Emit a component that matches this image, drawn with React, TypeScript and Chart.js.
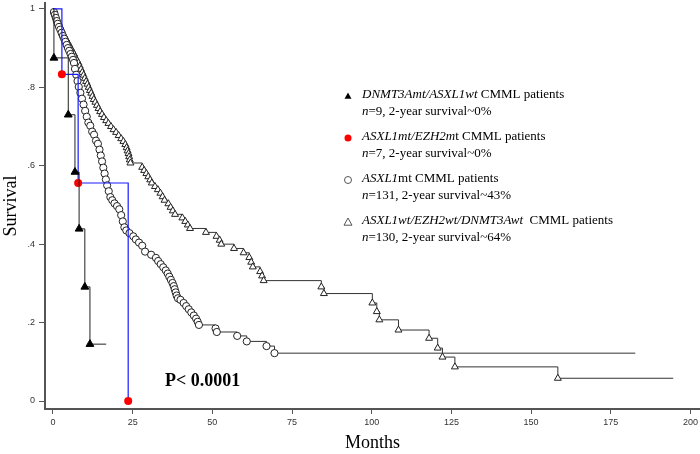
import React, { useEffect, useRef } from 'react';
import { Chart, registerables } from 'chart.js';

Chart.register(...registerables);

// ---------- axis ticks ----------
const xTickValues = [0, 25, 50, 75, 100, 125, 150, 175, 200];
const yTickValues = [0, 0.2, 0.4, 0.6, 0.8, 1];
const yTickLabels = ['0', '.2', '.4', '.6', '.8', '1'];

// ---------- DNMT3Amt/ASXL1wt (n=9) ----------
const dnmtTimes = [0.3, 4.8, 6.9, 8.2, 10.0, 11.6];
const dnmtSurv = [0.875, 0.73, 0.584, 0.439, 0.291, 0.145];
const dnmtEnd = 16.7;

// ---------- ASXL1mt/EZH2mt (n=7) ----------
const ezhTimes = [2.8, 7.9, 23.6];
const ezhSurv = [0.833, 0.556, 0.0];

// ---------- ASXL1mt (n=131) ----------
const asxlTimes = [
  0.3, 0.6, 0.9, 1.2, 1.5, 1.9, 2.3, 2.7, 3.1, 3.5, 3.9, 4.3, 4.7, 5.1, 5.5, 5.9, 6.3, 6.6, 6.9, 7.3,
  7.7, 8.1, 8.6, 9.1, 9.6, 10.1, 10.6, 11.1, 11.7, 12.3, 12.9, 13.5, 14.1, 14.6, 15.0, 15.4, 15.8, 16.2, 16.6, 17.0,
  17.5, 18.0, 18.6, 19.3, 20.1, 20.8, 21.4, 21.9, 22.4, 23.0, 24.0, 25.2, 26.0, 27.0, 28.0, 28.9, 30.8, 32.3, 33.0, 33.8,
  34.6, 35.4, 36.0, 36.5, 37.0, 37.5, 37.9, 38.2, 38.5, 38.8, 39.2, 40.0, 41.0, 41.8, 42.6, 43.4, 44.2, 44.9, 45.4, 45.8,
  51.0, 51.4, 57.8, 60.8, 67.0, 69.5,
];
const asxlSurv = [
  0.992, 0.985, 0.977, 0.969, 0.962, 0.954, 0.947, 0.939, 0.931, 0.924, 0.916, 0.908, 0.9, 0.893, 0.885, 0.878, 0.87, 0.862, 0.847, 0.832,
  0.816, 0.801, 0.786, 0.771, 0.756, 0.74, 0.725, 0.71, 0.702, 0.687, 0.679, 0.664, 0.656, 0.641, 0.626, 0.611, 0.595, 0.58, 0.565, 0.55,
  0.535, 0.52, 0.512, 0.504, 0.497, 0.489, 0.474, 0.458, 0.443, 0.435, 0.428, 0.42, 0.412, 0.404, 0.396, 0.381, 0.373, 0.365, 0.357, 0.349,
  0.341, 0.333, 0.325, 0.317, 0.309, 0.301, 0.293, 0.285, 0.277, 0.269, 0.262, 0.258, 0.25, 0.242, 0.234, 0.226, 0.218, 0.21, 0.202, 0.194,
  0.185, 0.176, 0.166, 0.152, 0.14, 0.122,
];
const asxlEnd = 182.7;

// ---------- ASXL1wt/EZH2wt/DNMT3Awt (n=130) ----------
const wtTimes = [
  0.3, 0.7, 1.1, 1.5, 1.9, 2.3, 2.7, 3.1, 3.6, 4.1, 4.6, 5.1, 5.6, 6.1, 6.6, 7.0, 7.5, 8.0, 8.4, 8.8,
  9.2, 9.6, 10.0, 10.4, 10.8, 11.2, 11.6, 12.0, 12.4, 12.8, 13.3, 13.8, 14.3, 14.8, 15.4, 16.0, 16.7, 17.4, 18.2, 19.0,
  19.8, 20.6, 21.4, 22.1, 22.7, 23.1, 23.4, 23.7, 23.9, 24.1, 24.3, 28.0, 28.6, 29.3, 29.9, 30.5, 31.0, 32.0, 32.9, 33.7,
  34.4, 35.0, 36.2, 36.9, 37.6, 38.3, 40.6, 41.5, 42.3, 43.0, 48.0, 51.3, 52.3, 52.8, 56.8, 59.8, 61.6, 62.2, 62.7, 65.0,
  65.6, 66.1, 84.2, 85.0, 100.2, 101.6, 102.4, 108.4, 118.0, 120.7, 122.2, 126.1, 158.4,
];
const wtSurv = [
  0.992, 0.985, 0.977, 0.969, 0.962, 0.954, 0.946, 0.938, 0.931, 0.923, 0.915, 0.908, 0.9, 0.892, 0.885, 0.877, 0.869, 0.862, 0.854, 0.846,
  0.838, 0.831, 0.823, 0.815, 0.808, 0.8, 0.792, 0.785, 0.777, 0.769, 0.762, 0.754, 0.746, 0.738, 0.731, 0.723, 0.715, 0.708, 0.7, 0.692,
  0.685, 0.677, 0.669, 0.662, 0.654, 0.646, 0.638, 0.631, 0.623, 0.615, 0.607, 0.596, 0.588, 0.58, 0.572, 0.564, 0.556, 0.547, 0.539, 0.53,
  0.521, 0.512, 0.503, 0.494, 0.485, 0.476, 0.467, 0.458, 0.449, 0.44, 0.43, 0.42, 0.41, 0.4, 0.389, 0.378, 0.366, 0.354, 0.342, 0.33,
  0.319, 0.307, 0.291, 0.274, 0.25, 0.228, 0.207, 0.181, 0.16, 0.135, 0.112, 0.087, 0.058,
];
const wtEnd = 194.6;

// ---------- texts ----------
const xTitle = 'Months';
const yTitle = 'Survival';
const pValueText = 'P< 0.0001';
type Seg = [string, boolean];
const legendLine1: Seg[][] = [
  [['DNMT3Amt/ASXL1wt', true], [' CMML patients', false]],
  [['ASXL1mt/EZH2m', true], ['t CMML patients', false]],
  [['ASXL1', true], ['mt CMML patients', false]],
  [['ASXL1wt/EZH2wt/DNMT3Awt', true], ['  CMML patients', false]],
];
const legendLine2: Seg[][] = [
  [['n', true], ['=9, 2-year survival~0%', false]],
  [['n', true], ['=7, 2-year survival~0%', false]],
  [['n', true], ['=131, 2-year survival~43%', false]],
  [['n', true], ['=130, 2-year survival~64%', false]],
];
const legendMarkers = ['filledTriangle', 'redDot', 'openCircle', 'openTriangle'];

function buildCurve(times: number[], surv: number[], end?: number) {
  const pts = [{ x: 0, y: 1 }];
  times.forEach((t, i) => pts.push({ x: t, y: surv[i] }));
  if (end !== undefined) pts.push({ x: end, y: surv[surv.length - 1] });
  return pts;
}

function markerRadius(r: number, hasEnd: boolean) {
  return (ctx: any) => {
    const n = ctx.dataset.data.length;
    if (ctx.dataIndex === 0) return 0;
    if (hasEnd && ctx.dataIndex === n - 1) return 0;
    return r;
  };
}

const SERIF = '"Liberation Serif", "Times New Roman", serif';
const SANS = '"Liberation Sans", Arial, sans-serif';

function drawMarker(ctx: CanvasRenderingContext2D, kind: string, x: number, y: number) {
  ctx.save();
  ctx.lineWidth = 1;
  if (kind === 'filledTriangle' || kind === 'openTriangle') {
    const s = kind === 'filledTriangle' ? 3.5 : 4;
    ctx.beginPath();
    ctx.moveTo(x, y - s);
    ctx.lineTo(x + s, y + s * 0.8);
    ctx.lineTo(x - s, y + s * 0.8);
    ctx.closePath();
    if (kind === 'filledTriangle') {
      ctx.fillStyle = '#000';
      ctx.fill();
    } else {
      ctx.fillStyle = '#fff';
      ctx.fill();
      ctx.strokeStyle = '#555';
      ctx.stroke();
    }
  } else if (kind === 'redDot') {
    ctx.beginPath();
    ctx.arc(x, y, 3.5, 0, Math.PI * 2);
    ctx.fillStyle = '#ff0000';
    ctx.fill();
  } else {
    ctx.beginPath();
    ctx.arc(x, y, 3.5, 0, Math.PI * 2);
    ctx.fillStyle = '#fff';
    ctx.fill();
    ctx.strokeStyle = '#555';
    ctx.stroke();
  }
  ctx.restore();
}

function drawSegs(ctx: CanvasRenderingContext2D, segs: Seg[], x: number, y: number) {
  let cx = x;
  segs.forEach(([t, it]) => {
    ctx.font = `${it ? 'italic ' : ''}13px ${SERIF}`;
    ctx.fillText(t, cx, y);
    cx += ctx.measureText(t).width;
  });
}

const annotationPlugin = {
  id: 'kmAnnotations',
  afterDraw(chart: any) {
    const ctx: CanvasRenderingContext2D = chart.ctx;
    ctx.save();
    ctx.fillStyle = '#000';
    ctx.textAlign = 'left';
    ctx.textBaseline = 'middle';
    const rows = [95, 137, 179, 221];
    rows.forEach((ry, i) => {
      drawMarker(ctx, legendMarkers[i], 348, ry + 1);
      ctx.fillStyle = '#000';
      drawSegs(ctx, legendLine1[i], 362, ry);
      drawSegs(ctx, legendLine2[i], 362, ry + 17);
    });
    ctx.font = `bold 18px ${SERIF}`;
    ctx.textBaseline = 'alphabetic';
    ctx.fillText(pValueText, 165, 386);
    ctx.restore();
  },
};

export default function App() {
  const canvasRef = useRef<HTMLCanvasElement | null>(null);

  useEffect(() => {
    if (!canvasRef.current) return;
    const chart = new Chart(canvasRef.current, {
      type: 'line',
      data: {
        datasets: [
          {
            label: 'DNMT3Amt/ASXL1wt',
            data: buildCurve(dnmtTimes, dnmtSurv, dnmtEnd),
            stepped: 'before',
            borderColor: '#222',
            borderWidth: 1,
            pointStyle: 'triangle',
            pointRadius: markerRadius(4.5, true),
            pointBackgroundColor: '#000',
            pointBorderColor: '#000',
            pointBorderWidth: 1,
            fill: false,
          },
          {
            label: 'ASXL1mt/EZH2mt',
            data: buildCurve(ezhTimes, ezhSurv),
            stepped: 'before',
            borderColor: '#1a1aff',
            borderWidth: 1.2,
            pointStyle: 'circle',
            pointRadius: markerRadius(4, false),
            pointBackgroundColor: '#ff0000',
            pointBorderColor: '#ff0000',
            pointBorderWidth: 0,
            fill: false,
            clip: false,
          },
          {
            label: 'ASXL1mt',
            data: buildCurve(asxlTimes, asxlSurv, asxlEnd),
            stepped: 'before',
            borderColor: '#333',
            borderWidth: 1,
            pointStyle: 'circle',
            pointRadius: markerRadius(3.6, true),
            pointBackgroundColor: '#fff',
            pointBorderColor: '#222',
            pointBorderWidth: 1,
            fill: false,
          },
          {
            label: 'ASXL1wt/EZH2wt/DNMT3Awt',
            data: buildCurve(wtTimes, wtSurv, wtEnd),
            stepped: 'before',
            borderColor: '#333',
            borderWidth: 1,
            pointStyle: 'triangle',
            pointRadius: markerRadius(4, true),
            pointBackgroundColor: '#fff',
            pointBorderColor: '#222',
            pointBorderWidth: 1,
            fill: false,
          },
        ],
      },
      options: {
        animation: false,
        responsive: true,
        maintainAspectRatio: false,
        layout: { autoPadding: false, padding: { top: 3, left: 0, right: 0, bottom: 0 } },
        plugins: {
          legend: { display: false },
          tooltip: { enabled: false },
        },
        scales: {
          x: {
            type: 'linear',
            min: -2.5,
            max: 203,
            afterBuildTicks: (scale: any) => {
              scale.ticks = xTickValues.map((v) => ({ value: v }));
            },
            afterFit: (scale: any) => {
              scale.height = 45;
              scale.paddingLeft = 0;
              scale.paddingRight = 0;
            },
            ticks: {
              font: { family: SANS, size: 9 },
              color: '#333',
              padding: 3,
              maxRotation: 0,
              autoSkip: false,
            },
            grid: { drawOnChartArea: false, drawTicks: true, tickLength: 5, color: '#555', lineWidth: 1 },
            border: { display: true, color: '#555', width: 2 },
            title: {
              display: true,
              text: xTitle,
              font: { family: SERIF, size: 18 },
              color: '#000',
              padding: 0,
            },
          },
          y: {
            type: 'linear',
            min: -0.0204,
            max: 1.015,
            afterBuildTicks: (scale: any) => {
              scale.ticks = yTickValues.map((v) => ({ value: v }));
            },
            afterFit: (scale: any) => {
              scale.width = 45;
              scale.paddingTop = 0;
              scale.paddingBottom = 0;
            },
            ticks: {
              font: { family: SANS, size: 9 },
              color: '#333',
              padding: 4,
              callback: (_v: any, i: number) => yTickLabels[i],
            },
            grid: { drawOnChartArea: false, drawTicks: true, tickLength: 6, color: '#555', lineWidth: 1 },
            border: { display: true, color: '#555', width: 2 },
            title: {
              display: true,
              text: yTitle,
              font: { family: SERIF, size: 18 },
              color: '#000',
              padding: 0,
            },
          },
        },
      },
      plugins: [annotationPlugin],
    } as any);
    return () => chart.destroy();
  }, []);

  return (
    <div style={{ position: 'absolute', left: 0, top: 0, width: 700, height: 454, background: '#fff' }}>
      <canvas ref={canvasRef} />
    </div>
  );
}
